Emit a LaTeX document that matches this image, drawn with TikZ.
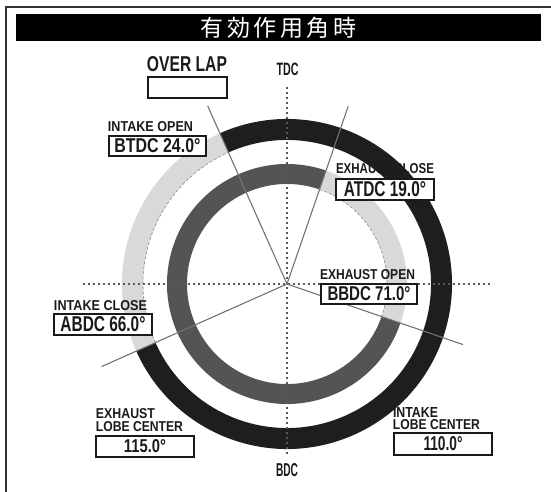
\documentclass[tikz,border=0pt]{standalone}
\usepackage{fontspec}
\setmainfont{Liberation Sans}
\newfontfamily\cjk{Noto Sans CJK JP}
\newcommand\fitt[3]{\resizebox{#1pt}{#2pt}{\bfseries #3}}
\definecolor{ringblack}{HTML}{1E1E1E}
\definecolor{ringdark}{HTML}{545454}
\definecolor{ringlight}{HTML}{D9D9D9}
\definecolor{inkc}{HTML}{1A1A1A}
\begin{document}
\begin{tikzpicture}[x=1pt,y=1pt,
  lbl/.style={inner sep=0pt, text=inkc},
  vbox/.style={draw=inkc, line width=1.8pt, fill=white, inner sep=0pt, text=inkc},
  ring/.style={line width=21pt},
  iring/.style={line width=20pt},
  edge/.style={dashed, draw=black!45, line width=0.6pt, dash pattern=on 3pt off 2pt},
  dotline/.style={draw=black!65, line width=1.8pt, dash pattern=on 1.8pt off 3.2pt},
  radial/.style={draw=black!55, line width=1.1pt},
  frame/.style={draw=black!80, line width=2pt}]
\useasboundingbox (-287,-208) rectangle (264,284);
% frame and title bar
\draw[frame] (-281,-212) -- (-281,277) -- (268,277);
\node[fill=black, minimum width=525pt, minimum height=27pt, inner sep=0pt] (bar) at (-8.5,256.5) {};
\node[text=white, inner sep=0pt] (title) at ([yshift=-0.5pt]bar.center) {\cjk\fontsize{23}{23}\selectfont 有\hspace{3.5pt}効\hspace{3.5pt}作\hspace{3.5pt}用\hspace{3.5pt}角\hspace{3.5pt}時};
% centre
\coordinate (O) at (0,0);
% outer ring (intake)
\draw[ring, draw=ringblack] (114:154.5) arc[start angle=114, end angle=-156, radius=154.5];
\draw[ring, draw=ringlight] (204:154.5) arc[start angle=204, end angle=114, radius=154.5];
\draw[edge] (204:144) arc[start angle=204, end angle=114, radius=144];
% inner ring (exhaust)
\draw[iring, draw=ringdark] (-19:110) arc[start angle=-19, end angle=-289, radius=110];
\draw[iring, draw=ringlight] (71:110) arc[start angle=71, end angle=-19, radius=110];
\draw[edge] (71:100) arc[start angle=71, end angle=-19, radius=100];
% dotted cross
\coordinate (hl) at (-204,0);
\coordinate (hr) at (203,0);
\coordinate (vt) at (0,197);
\coordinate (vb) at (0,-172);
\draw[dotline] (hl) -- (hr);
\draw[dotline] (vt) -- (vb);
% radial lines
\coordinate (io) at (114:195);
\coordinate (ec) at (71:188);
\coordinate (eo) at (-19:186);
\coordinate (ic) at (204:203);
\draw[radial] (O) -- (io);
\draw[radial] (O) -- (ec);
\draw[radial] (O) -- (eo);
\draw[radial] (O) -- (ic);
% TDC / BDC
\node[lbl] (tdc) at (0.5,214.5) {\fitt{22}{12.5}{TDC}};
\node[lbl] (bdc) at (0,-186) {\fitt{22}{13}{BDC}};
% overlap
\node[lbl] (ovt) at (-100,219.5) {\fitt{80}{15}{OVER LAP}};
\node[vbox, minimum width=79pt, minimum height=21pt] (ovb) at (-99.5,196.5) {};
% intake open
\node[lbl] (iot) at (-136.5,157) {\fitt{85}{10}{INTAKE OPEN}};
\node[vbox, minimum width=97pt, minimum height=20pt] (iob) at (-129.5,138) {\fitt{86}{14}{BTDC 24.0°}};
% exhaust close
\node[lbl] (ect) at (98,115) {\fitt{98}{10}{EXHAUST CLOSE}};
\node[vbox, minimum width=98pt, minimum height=21pt] (ecb) at (98,94.5) {\fitt{82}{15}{ATDC 19.0°}};
% exhaust open
\node[lbl] (eot) at (80.5,9.5) {\fitt{95}{10}{EXHAUST OPEN}};
\node[vbox, minimum width=96pt, minimum height=20pt] (eob) at (82,-10) {\fitt{83}{14}{BBDC 71.0°}};
% intake close
\node[lbl] (ict) at (-186.5,-22) {\fitt{93}{10}{INTAKE CLOSE}};
\node[vbox, minimum width=98pt, minimum height=21pt] (icb) at (-184,-40.5) {\fitt{85}{15}{ABDC 66.0°}};
% exhaust lobe centre
\node[lbl] (elt1) at (-161.5,-130) {\fitt{59}{10}{EXHAUST}};
\node[lbl] (elt2) at (-147.5,-143) {\fitt{87}{10}{LOBE CENTER}};
\node[vbox, minimum width=98pt, minimum height=21pt] (elb) at (-142,-162.5) {\fitt{42}{13}{115.0°}};
% intake lobe centre
\node[lbl] (ilt1) at (128.5,-128) {\fitt{45}{10}{INTAKE}};
\node[lbl] (ilt2) at (149.5,-141) {\fitt{87}{10}{LOBE CENTER}};
\node[vbox, minimum width=98pt, minimum height=22pt] (ilb) at (156,-160) {\fitt{39}{14}{110.0°}};
\end{tikzpicture}
\end{document}
